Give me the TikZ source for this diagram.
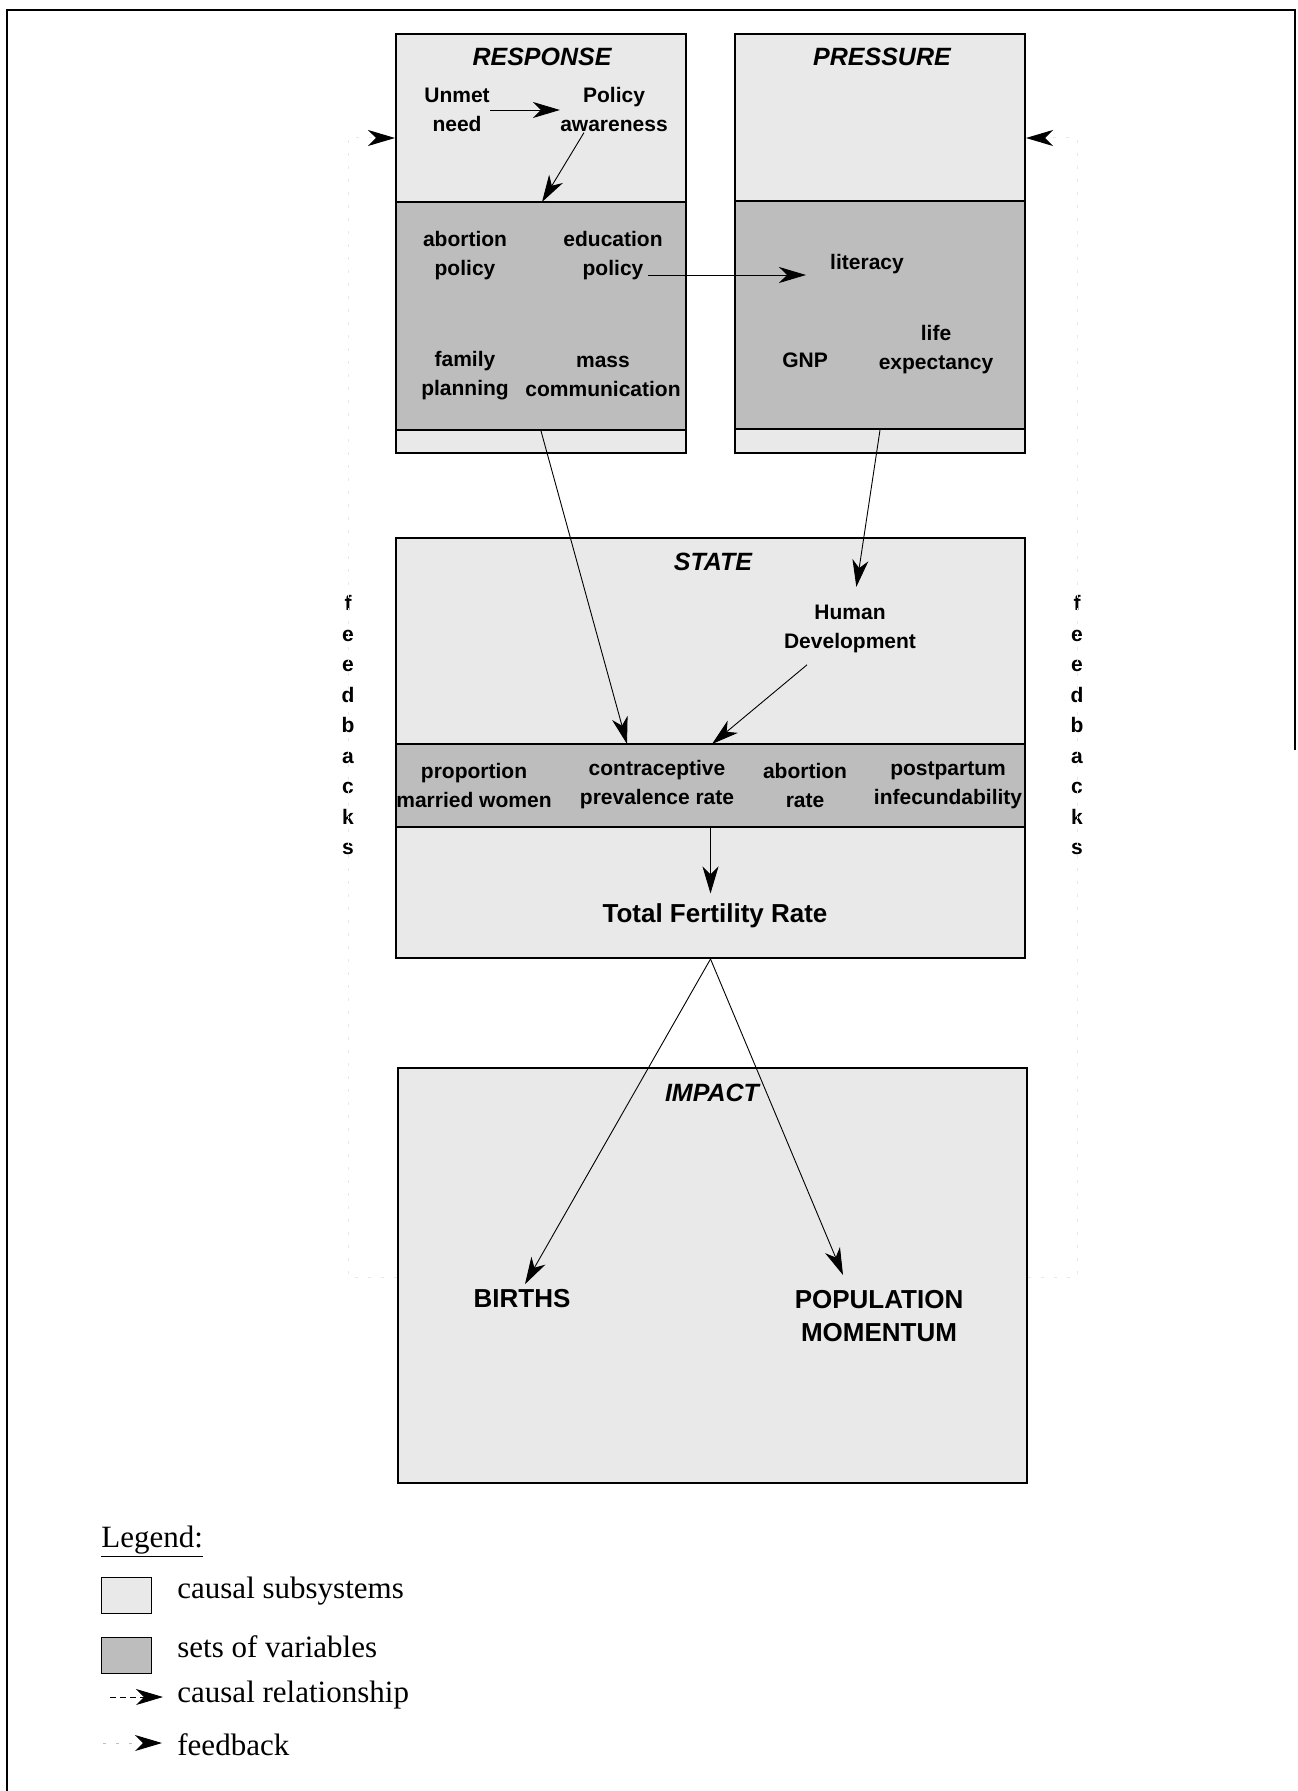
\documentclass[tikz,border=0pt]{standalone}
\usepackage{fontspec}
\setmainfont{Liberation Serif}
\setsansfont{Liberation Sans}
\usetikzlibrary{arrows.meta,fit}

\definecolor{lightfill}{gray}{0.915}
\definecolor{darkfill}{gray}{0.74}

\begin{document}
\begin{tikzpicture}[x=0.5pt,y=-0.5pt,
  subsys/.style={draw=black,line width=1pt,fill=lightfill,inner sep=0pt},
  varset/.style={draw=black,line width=1pt,fill=darkfill,inner sep=0pt},
  lbl/.style={font=\sffamily\bfseries\fontsize{10.5}{14.5}\selectfont,align=center,inner sep=0pt},
  ttl/.style={font=\sffamily\bfseries\itshape\fontsize{12.5}{15}\selectfont,inner sep=0pt},
  big/.style={font=\sffamily\bfseries\fontsize{13}{16.5}\selectfont,align=center,inner sep=0pt},
  causal/.style={-{Stealth[length=13.5pt,width=8pt,inset=4pt]},line width=0.45pt},
  fb/.style={-{Stealth[length=13.5pt,width=8pt,inset=4pt,black]},draw=black!9,line width=0.5pt,dash pattern=on 1.5pt off 5pt},
  legtxt/.style={font=\fontsize{15.5}{18}\selectfont,inner sep=0pt,anchor=base west},
]
\useasboundingbox (0,0) rectangle (1297,1791);

% page frame
\draw[line width=1pt] (7,1791) -- (7,10) -- (1295,10) -- (1295,750);

% causal subsystems and their sets of variables
\node[subsys, fit={(396,34) (686,453)}] (resp) {};
\node[varset, fit={(396,202) (686,430)}] (respvars) {};
\node[subsys, fit={(735,34) (1025,453)}] (pres) {};
\node[varset, fit={(735,201) (1025,429)}] (presvars) {};
\node[subsys, fit={(396,538) (1025,958)}] (state) {};
\node[varset, fit={(396,744) (1025,827)}] (statevars) {};
\node[subsys, fit={(398,1068) (1027,1483)}] (impact) {};

% RESPONSE
\node[ttl] (resptitle) at (542,57) {RESPONSE};
\node[lbl] (unmet) at (457,110) {Unmet\\need};
\node[lbl] (aware) at (614,110) {Policy\\awareness};
\node[lbl] (abpol) at (465,256) {abortion\\policy};
\node[lbl] (edpol) at (613,256) {education\\policy};
\node[lbl] (fampl) at (465,376) {family\\planning};
\node[lbl] (mass) at (603,376) {mass\\communication};

% PRESSURE
\node[ttl] (prestitle) at (882,57) {PRESSURE};
\node[lbl] (lit) at (867,264) {literacy};
\node[lbl] (gnp) at (805,360) {GNP};
\node[lbl] (life) at (936,350) {life\\expectancy};

% STATE
\node[ttl] (statetitle) at (713,562) {STATE};
\node[lbl] (hd) at (850,629) {Human\\Development};
\node[lbl] (prop) at (474,785) {proportion\\married women};
\node[lbl] (cpr) at (657,785) {contraceptive\\prevalence rate};
\node[lbl] (abr) at (805,785) {abortion\\rate};
\node[lbl] (pp) at (948,785) {postpartum\\infecundability};
\node[big] (tfr) at (715,916) {Total Fertility Rate};

% IMPACT
\node[ttl] (imptitle) at (712,1093) {IMPACT};
\node[big] (births) at (522,1299) {BIRTHS};
\node[big] (pop) at (879,1316) {POPULATION\\MOMENTUM};

% feedback labels
\node[lbl, font=\sffamily\bfseries\fontsize{10.5}{15.25}\selectfont] (fbleft) at (348,725) {f\\e\\e\\d\\b\\a\\c\\k\\s};
\node[lbl, font=\sffamily\bfseries\fontsize{10.5}{15.25}\selectfont] (fbright) at (1077,725) {f\\e\\e\\d\\b\\a\\c\\k\\s};

% causal relationships
\coordinate (respIn) at (542,202);
\coordinate (eduOut) at (648,275);
\coordinate (litIn) at (806,275);
\coordinate (cprIn) at (627,744);
\coordinate (cprIn2) at (712,744);
\coordinate (popIn) at (843,1275);
\draw[causal] (unmet) -- (aware);
\draw[causal] (aware.-143) -- (respIn);
\draw[causal] (eduOut) -- (litIn);
\draw[causal] (respvars.south) -- (cprIn);
\draw[causal, shorten >=9pt] (presvars.south) -- (hd);
\draw[causal, shorten <=9pt] (hd) -- (cprIn2);
\draw[causal, shorten >=5pt] (statevars.south) -- (statevars.south |- tfr.north);
\draw[causal, shorten >=3pt] (state.south) -- (births.north);
\draw[causal] (state.south) -- (popIn);

% feedback loops
\coordinate (fbL1) at (348,1277);
\coordinate (fbL2) at (348,138);
\coordinate (fbR1) at (1077,1277);
\coordinate (fbR2) at (1077,138);
\draw[fb] (impact.west |- fbL1) -- (fbL1) -- (fbL2) -- (resp.west |- fbL2);
\draw[fb] (impact.east |- fbR1) -- (fbR1) -- (fbR2) -- (pres.east |- fbR2);

% legend
\node[legtxt] (legend) at (101,1547) {\underline{Legend:}};
\node[subsys, line width=0.5pt, fit={(101,1577) (151,1613)}] (keysub) {};
\node[varset, line width=0.5pt, fit={(101,1637) (151,1673)}] (keyvar) {};
\node[legtxt] (txtsub) at (177,1598) {causal subsystems};
\node[legtxt] (txtvar) at (177,1657) {sets of variables};
\node[legtxt] (txtcaus) at (177,1702) {causal relationship};
\node[legtxt] (txtfb) at (177,1755) {feedback};
\coordinate (kc1) at (110,1697);
\coordinate (kf1) at (103,1743);
\draw[causal, dash pattern=on 3pt off 2pt, shorten >=7pt] (kc1) -- (kc1 -| txtcaus.west);
\draw[fb, draw=black!25, shorten >=7.5pt] (kf1) -- (kf1 -| txtfb.west);
\end{tikzpicture}
\end{document}
